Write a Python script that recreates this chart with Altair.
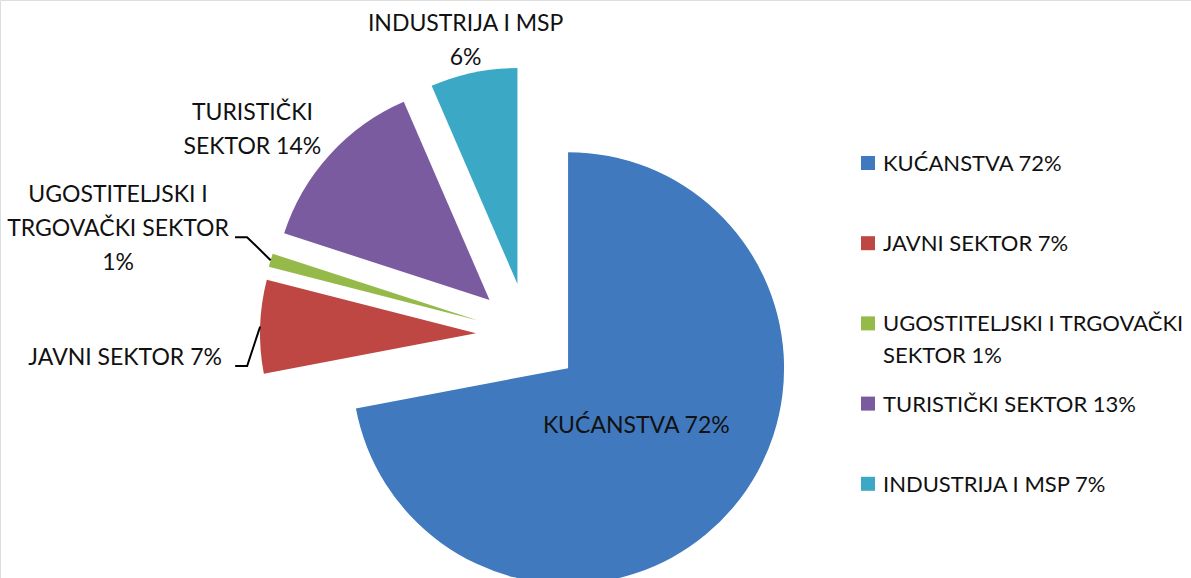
import math
import altair as alt
import pandas as pd

# ---------------- data ----------------
categories = [
    "KUĆANSTVA",
    "JAVNI SEKTOR",
    "UGOSTITELJSKI I TRGOVAČKI SEKTOR",
    "TURISTIČKI SEKTOR",
    "INDUSTRIJA I MSP",
]
values = [72.0, 7.0, 1.0, 13.5, 6.5]
slice_labels = [
    "KUĆANSTVA 72%",
    "JAVNI SEKTOR 7%",
    "UGOSTITELJSKI I\nTRGOVAČKI SEKTOR\n1%",
    "TURISTIČKI\nSEKTOR 14%",
    "INDUSTRIJA I MSP\n6%",
]
legend_labels = [
    "KUĆANSTVA 72%",
    "JAVNI SEKTOR 7%",
    "UGOSTITELJSKI I TRGOVAČKI\nSEKTOR 1%",
    "TURISTIČKI SEKTOR 13%",
    "INDUSTRIJA I MSP 7%",
]
colors = ["#4079BE", "#BE4643", "#95BA4A", "#7B5BA0", "#3BA9C5"]

# ---------------- layout ----------------
W, H = 1191, 578
CX, CY, R, EXPLODE = 528, 335, 216, 52
LABEL_GAP = 10
FONT = "Lato"
FS = 23
LEG_FS = 22
LINE_H = 34
# labels moved by hand in the original (drawn with leader lines)
label_nudge = {
    "UGOSTITELJSKI I TRGOVAČKI SEKTOR": (-31, -16),
    "JAVNI SEKTOR": (-20, 32),
    "INDUSTRIJA I MSP": (-6, 5),
}
LEG_X, LEG_Y0, LEG_STEP = 868, 163, 80.2

total = sum(values)

df = pd.DataFrame({
    "category": categories,
    "value": values,
    "label": slice_labels,
    "order": list(range(len(categories))),
    "nlines": [s.count("\n") + 1 for s in slice_labels],
    "nchars": [max(len(p) for p in s.split("\n")) for s in slice_labels],
    "nudge_x": [label_nudge.get(c, (0, 0))[0] for c in categories],
    "nudge_y": [label_nudge.get(c, (0, 0))[1] for c in categories],
    "leader": [c in ("UGOSTITELJSKI I TRGOVAČKI SEKTOR", "JAVNI SEKTOR") for c in categories],
})

color_scale = alt.Scale(domain=categories, range=colors)
X = lambda f: alt.X(f, type="quantitative", scale=None, axis=None)
Y = lambda f: alt.Y(f, type="quantitative", scale=None, axis=None)

base = (
    alt.Chart(df)
    .transform_joinaggregate(total="sum(value)")
    .transform_window(cum="sum(value)", sort=[alt.SortField("order")], frame=[None, 0])
    .transform_calculate(start="datum.cum - datum.value")
    .transform_calculate(mid="(datum.cum - datum.value / 2) / datum.total * 2 * PI")
    .transform_calculate(ux="sin(datum.mid)")
    .transform_calculate(uy="-cos(datum.mid)")
    .transform_calculate(cx=f"{CX} + {EXPLODE} * datum.ux")
    .transform_calculate(cy=f"{CY} + {EXPLODE} * datum.uy")
)

arcs = base.mark_arc(radius=R, strokeWidth=0).encode(
    theta=alt.Theta("start:Q", scale=alt.Scale(domain=[0, total], range=[0, 2 * math.pi])),
    theta2=alt.Theta2("cum"),
    x=X("cx"),
    y=Y("cy"),
    color=alt.Color("category:N", scale=color_scale, legend=None),
)

lab = (
    base.transform_calculate(big="datum.value / datum.total > 0.5")
    .transform_calculate(f="(datum.ux < 0 ? -1 : 1) * clamp((abs(datum.ux) - 0.3) / 0.4, 0, 1)")
    .transform_calculate(halfw="datum.nchars * 7")
    .transform_calculate(halfh="(datum.nlines * 34 - 14) / 2")
    .transform_calculate(
        lx=f"datum.big ? datum.cx + 0.41 * {R} * datum.ux : "
           f"datum.cx + {R + LABEL_GAP} * datum.ux + datum.halfw * datum.f + datum.nudge_x"
    )
    .transform_calculate(
        ly=f"datum.big ? datum.cy + 0.42 * {R} * datum.uy : "
           f"datum.cy + {R + LABEL_GAP} * datum.uy + datum.halfh * datum.uy + datum.nudge_y"
    )
    .transform_calculate(ty=f"datum.ly - (datum.nlines - 1) * {LINE_H} / 2")
)

labels = lab.mark_text(
    font=FONT, fontSize=FS, lineBreak="\n", lineHeight=LINE_H,
    align="center", baseline="middle", color="#111111",
).encode(x=X("lx"), y=Y("ty"), text="label:N")

leaders = (
    lab.transform_filter("datum.leader")
    .transform_calculate(k="[0, 1, 2]")
    .transform_flatten(["k"])
    .transform_calculate(
        px=f"datum.k == 0 ? datum.lx + datum.halfw + 5 : "
           f"(datum.k == 1 ? datum.lx + datum.halfw + 17 : datum.cx + {R} * datum.ux)"
    )
    .transform_calculate(
        py=f"datum.k < 2 ? datum.ly + 8 : datum.cy + {R} * datum.uy"
    )
    .mark_line(color="#000000", strokeWidth=2)
    .encode(x=X("px"), y=Y("py"), detail="category:N", order="k:Q")
)

leg_df = pd.DataFrame({
    "category": categories,
    "label": legend_labels,
    "i": list(range(len(categories))),
})
leg = alt.Chart(leg_df).transform_calculate(ly=f"{LEG_Y0} + datum.i * {LEG_STEP}")
squares = leg.mark_square(size=196, opacity=1).encode(
    x=alt.value(LEG_X),
    y=Y("ly"),
    color=alt.Color("category:N", scale=color_scale, legend=None),
)
leg_text = leg.mark_text(
    font=FONT, fontSize=LEG_FS, lineBreak="\n", lineHeight=32,
    align="left", baseline="alphabetic", dy=8, color="#111111",
).encode(x=alt.value(LEG_X + 15), y=Y("ly"), text="label:N")

chart = (
    alt.layer(arcs, leaders, labels, squares, leg_text)
    .properties(width=W, height=H, autosize=alt.AutoSizeParams(type="none"), padding=0)
    .configure_view(stroke=None)
    .configure(background="white")
)

chart.save("out.html", embed_options={"renderer": "svg", "actions": False})
